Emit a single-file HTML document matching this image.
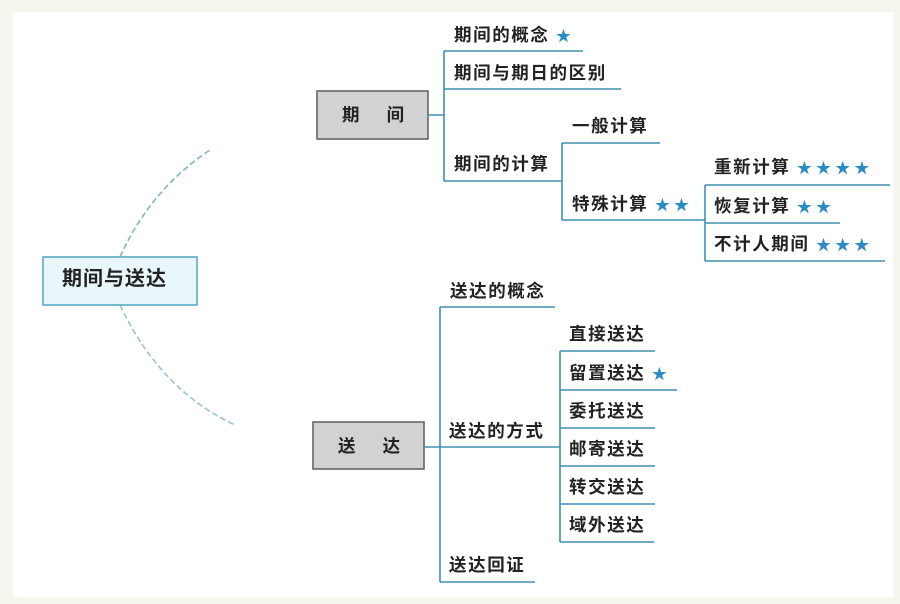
<!DOCTYPE html>
<html><head><meta charset="utf-8"><style>
body{margin:0;width:900px;height:604px;background:#f7f6ee;overflow:hidden;font-family:"Liberation Sans","Noto Sans CJK SC",sans-serif;}
.w{position:absolute;left:13px;top:12px;width:880px;height:585px;background:#fff;}
.t{position:absolute;font-size:17.5px;letter-spacing:1.6px;font-weight:bold;color:#222;white-space:nowrap;line-height:20px;}
.s{color:#2b8cc4;font-size:15px;letter-spacing:0;}
</style></head><body>
<div class="w"></div>
<svg width="900" height="604" style="position:absolute;left:0;top:0">
<g stroke="#3f8fb0" stroke-width="1.6" fill="none">
<path d="M120 257 Q150 190 210 150" stroke-dasharray="6 3" stroke="#7fb4c8"/>
<path d="M120 305 Q160 390 235 425" stroke-dasharray="6 3" stroke="#9cc4d4"/>
<rect x="43" y="257" width="154" height="48" fill="#e9f7fb" stroke="#5aaac4"/>
<rect x="317" y="91" width="111" height="48" fill="#d2d2d2" stroke="#666"/>
<rect x="313" y="422" width="111" height="47" fill="#d2d2d2" stroke="#666"/>
<path d="M428 115H444M444 51V181M444 51H583M444 89H621M444 181H562M562 143V220M562 143H660M562 220H705M705 185V261M705 185H890M705 223H840M705 261H885"/>
<path d="M424 447H560M440 307V582M440 307H555M440 582H535M560 351V542M560 351H655M560 390H677M560 428H655M560 466H655M560 504H655M560 542H654"/>
</g></svg>
<div class="t" style="left:62px;top:269px;font-size:20px;letter-spacing:1px">期间与送达</div>
<div class="t" style="left:342px;top:105px">期　&nbsp;间</div>
<div class="t" style="left:338px;top:436px">送　&nbsp;达</div>
<div class="t" style="left:454px;top:25px">期间的概念 <span class="s">★</span></div>
<div class="t" style="left:454px;top:63px">期间与期日的区别</div>
<div class="t" style="left:454px;top:154px">期间的计算</div>
<div class="t" style="left:572px;top:116px">一般计算</div>
<div class="t" style="left:572px;top:194px">特殊计算 <span class="s">★ ★</span></div>
<div class="t" style="left:714px;top:157px">重新计算 <span class="s">★ ★ ★ ★</span></div>
<div class="t" style="left:714px;top:196px">恢复计算 <span class="s">★ ★</span></div>
<div class="t" style="left:714px;top:234px">不计人期间 <span class="s">★ ★ ★</span></div>
<div class="t" style="left:450px;top:281px">送达的概念</div>
<div class="t" style="left:449px;top:421px">送达的方式</div>
<div class="t" style="left:449px;top:555px">送达回证</div>
<div class="t" style="left:569px;top:324px">直接送达</div>
<div class="t" style="left:569px;top:363px">留置送达 <span class="s">★</span></div>
<div class="t" style="left:569px;top:401px">委托送达</div>
<div class="t" style="left:569px;top:439px">邮寄送达</div>
<div class="t" style="left:569px;top:477px">转交送达</div>
<div class="t" style="left:569px;top:515px">域外送达</div>
</body></html>
